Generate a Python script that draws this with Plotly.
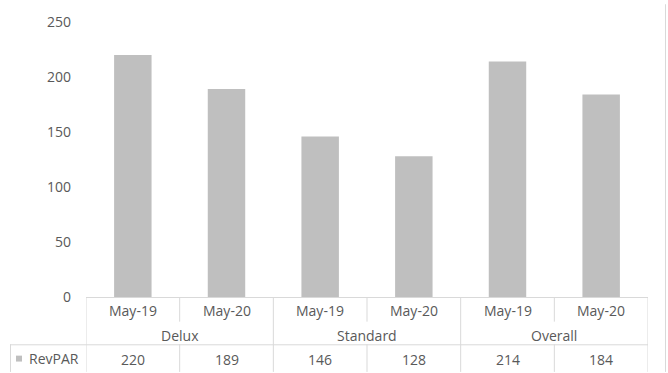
import plotly.graph_objects as go

groups = ["Delux", "Standard", "Overall"]
periods = ["May-19", "May-20", "May-19", "May-20", "May-19", "May-20"]
revpar = [220, 189, 146, 128, 214, 184]
series_name = "RevPAR"
y_ticks = [0, 50, 100, 150, 200, 250]

W, H = 668, 373
L, R, T, B = 86, 20, 18, 76
PH = H - T - B
PW = W - L - R
FONT = "Open Sans"
FS = 14
TXT = "#595959"
LINE = "#D9D9D9"
BAR = "#BFBFBF"

def py(p):
    return (H - B - p) / PH

def px(p):
    return (p - L) / PW

xs = list(range(len(revpar)))

fig = go.Figure()
fig.add_trace(go.Bar(x=xs, y=revpar, marker=dict(color=BAR, line=dict(width=0)),
                     name=series_name, showlegend=False, hoverinfo="skip"))

shapes = []
def hline(y, x0, x1, xref="paper"):
    shapes.append(dict(type="line", xref=xref, yref="paper", x0=x0, x1=x1, y0=py(y), y1=py(y),
                       line=dict(color=LINE, width=1)))
def vline(x, y0, y1, xref="x"):
    shapes.append(dict(type="line", xref=xref, yref="paper", x0=x, x1=x, y0=py(y0), y1=py(y1),
                       line=dict(color=LINE, width=1)))

n = len(revpar)
hline(297.5, -0.5, n - 0.5, xref="x")
hline(345.5, px(10), 1)
vline(px(10.5), 345, 373, xref="paper")
for i in range(n + 1):
    b = i - 0.5
    if i % 2 == 0:
        vline(b, 297, 373)
    else:
        vline(b, 297, 322)
        vline(b, 345, 373)
# outer chart border on the right
vline(px(665.5), 0, 373, xref="paper")
# legend key square
shapes.append(dict(type="rect", xref="paper", yref="paper", x0=px(16), x1=px(22),
                   y0=py(362.5), y1=py(356.5), fillcolor=BAR, line=dict(width=0)))

ann = []
for i, p in enumerate(periods):
    ann.append(dict(x=i, y=py(311), xref="x", yref="paper", text=p, showarrow=False,
                    font=dict(family=FONT, size=FS, color=TXT), xanchor="center", yanchor="middle"))
    ann.append(dict(x=i, y=py(360), xref="x", yref="paper", text=str(revpar[i]), showarrow=False,
                    font=dict(family=FONT, size=FS, color=TXT), xanchor="center", yanchor="middle"))
for g, name in enumerate(groups):
    ann.append(dict(x=2 * g + 0.5, y=py(336), xref="x", yref="paper", text=name, showarrow=False,
                    font=dict(family=FONT, size=FS, color=TXT), xanchor="center", yanchor="middle"))
ann.append(dict(x=px(27), y=py(359), xref="paper", yref="paper", text=series_name, showarrow=False,
                font=dict(family=FONT, size=FS, color=TXT), xanchor="left", yanchor="middle"))

fig.update_layout(
    width=W, height=H,
    margin=dict(l=L, r=R, t=T, b=B),
    paper_bgcolor="white", plot_bgcolor="white",
    bargap=0.6,
    shapes=shapes, annotations=ann,
    xaxis=dict(range=[-0.5, n - 0.5], showticklabels=False, showgrid=False, zeroline=False,
               showline=False, ticks="", fixedrange=True),
    yaxis=dict(range=[0, 250], tickvals=y_ticks, showgrid=False, zeroline=False, showline=False,
               ticks="", ticklabelstandoff=14,
               tickfont=dict(family=FONT, size=FS, color=TXT), fixedrange=True),
    showlegend=False,
)

fig.write_html("out.html")
